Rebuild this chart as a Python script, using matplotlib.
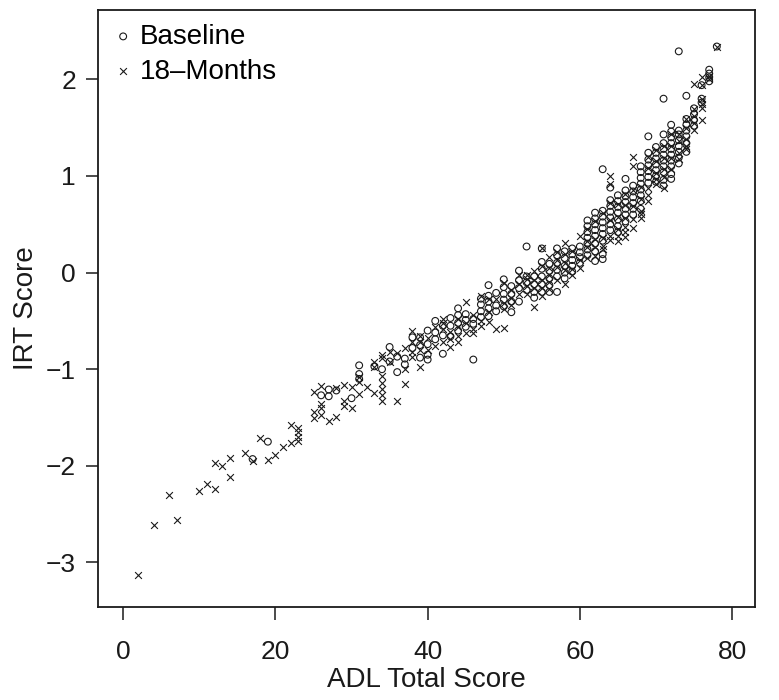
import matplotlib
matplotlib.use("Agg")
import matplotlib.pyplot as plt

# (ADL total score, IRT scores at that score)
baseline = [
    (17, [-1.93]), (19, [-1.75]),
    (26, [-1.27]), (27, [-1.21, -1.28]), (28, [-1.22]), (30, [-1.30]),
    (31, [-0.96, -1.05, -1.10]), (33, [-0.97]), (34, [-1.00]),
    (35, [-0.77, -0.92]), (36, [-0.87, -1.03]), (37, [-0.89, -0.95]),
    (38, [-0.67, -0.78]), (39, [-0.67, -0.75, -0.88]),
    (40, [-0.60, -0.74, -0.85, -0.90]), (41, [-0.50, -0.62, -0.69]),
    (42, [-0.55, -0.65, -0.84]), (43, [-0.47, -0.55, -0.66]),
    (44, [-0.37, -0.44, -0.52, -0.60]), (45, [-0.43, -0.49, -0.56]),
    (46, [-0.48, -0.53, -0.90]), (47, [-0.27, -0.33, -0.40, -0.46]),
    (48, [-0.13, -0.24, -0.30, -0.37, -0.45]), (49, [-0.21, -0.34, -0.40]),
    (50, [-0.07, -0.15, -0.22, -0.28, -0.35]),
    (51, [-0.14, -0.22, -0.30, -0.41]), (52, [0.02, -0.08, -0.16, -0.30]),
    (53, [0.27, -0.04, -0.10, -0.18]), (54, [-0.04, -0.12, -0.20, -0.26]),
    (55, [0.25, 0.11, 0.04, -0.04, -0.12, -0.20]),
    (56, [0.09, 0.02, -0.06, -0.13, -0.20]),
    (57, [0.25, 0.18, 0.10, 0.03, -0.04, -0.20]),
    (58, [0.22, 0.15, 0.07, 0.00, -0.06]),
    (59, [0.25, 0.19, 0.13, 0.07, 0.01]), (60, [0.27, 0.21, 0.16, 0.10]),
    (61, [0.54, 0.48, 0.42, 0.36, 0.30, 0.24, 0.18]),
    (62, [0.62, 0.56, 0.50, 0.44, 0.38, 0.30, 0.22, 0.12]),
    (63, [1.07, 0.64, 0.58, 0.52, 0.46, 0.40, 0.33, 0.19, 0.14]),
    (64, [0.88, 0.75, 0.69, 0.63, 0.57, 0.50, 0.44]),
    (65, [0.80, 0.74, 0.68, 0.62, 0.55, 0.48, 0.42]),
    (66, [0.97, 0.85, 0.79, 0.73, 0.66, 0.60, 0.53]),
    (67, [0.90, 0.84, 0.78, 0.72, 0.66, 0.60]),
    (68, [1.10, 1.04, 0.98, 0.92, 0.86, 0.80, 0.74, 0.66]),
    (69, [1.41, 1.24, 1.17, 1.11, 1.05, 0.99, 0.93]),
    (70, [1.30, 1.24, 1.18, 1.12, 1.06, 1.00, 0.94]),
    (71, [1.80, 1.43, 1.34, 1.28, 1.22, 1.16, 1.10, 1.04, 0.96, 0.90]),
    (72, [1.53, 1.46, 1.40, 1.34, 1.28, 1.22, 1.16, 1.10, 1.02, 0.97]),
    (73, [2.29, 1.47, 1.43, 1.37, 1.31, 1.25, 1.19, 1.13]),
    (74, [1.83, 1.59, 1.53, 1.47, 1.41, 1.34, 1.25]),
    (75, [1.70, 1.64, 1.58, 1.52]), (76, [1.94, 1.80, 1.76]),
    (77, [2.10, 2.06, 2.02, 1.98]), (78, [2.34]),
]

month18 = [
    (2, [-3.13]), (4, [-2.61]), (6, [-2.30]), (7, [-2.56]), (10, [-2.26]),
    (11, [-2.19]), (12, [-2.24, -1.97]), (13, [-2.00]), (14, [-1.92, -2.12]),
    (16, [-1.87]), (17, [-1.95]), (18, [-1.71]), (19, [-1.94]), (20, [-1.89]),
    (21, [-1.80]), (22, [-1.76, -1.58]), (23, [-1.61, -1.65, -1.70, -1.74]),
    (25, [-1.24, -1.44, -1.51]), (26, [-1.17, -1.36, -1.40, -1.47]),
    (27, [-1.54]), (28, [-1.19, -1.49]), (29, [-1.16, -1.33, -1.38]),
    (30, [-1.18, -1.40]), (31, [-1.08, -1.13, -1.26]), (32, [-1.18]),
    (33, [-0.93, -0.98, -1.25]),
    (34, [-0.85, -0.88, -1.07, -1.14, -1.20, -1.27, -1.33]),
    (35, [-0.82, -0.93]), (36, [-0.83, -1.33]), (37, [-0.78, -1.00, -1.15]),
    (38, [-0.60, -0.72, -0.82, -0.87]), (39, [-0.66, -0.72, -0.80, -0.98]),
    (40, [-0.68, -0.80]), (41, [-0.56, -0.76]),
    (42, [-0.48, -0.52, -0.58, -0.72]), (43, [-0.61, -0.69, -0.77]),
    (44, [-0.48, -0.56, -0.66, -0.72]), (45, [-0.30, -0.52, -0.62]),
    (46, [-0.44, -0.58, -0.62]), (47, [-0.24, -0.50, -0.55]),
    (48, [-0.27, -0.41, -0.51]), (49, [-0.27, -0.58]),
    (50, [-0.11, -0.31, -0.38, -0.57]), (51, [-0.18, -0.26, -0.34]),
    (52, [-0.03, -0.12, -0.22]), (53, [-0.02, -0.07, -0.14, -0.22]),
    (54, [0.02, -0.08, -0.16, -0.36]), (55, [0.25, 0.07, -0.08, -0.16, -0.24]),
    (56, [0.16, 0.05, -0.02, -0.10, -0.17]), (57, [0.21, 0.13, 0.06, -0.08]),
    (58, [0.31, 0.19, 0.10, 0.03, -0.12]), (59, [0.22, 0.04, -0.03]),
    (60, [0.38, 0.13, 0.05]), (61, [0.45, 0.33, 0.27, 0.15]),
    (62, [0.53, 0.35, 0.27, 0.17]), (63, [0.62, 0.36, 0.28, 0.24]),
    (64, [1.00, 0.92, 0.72, 0.54, 0.38, 0.34]),
    (65, [0.71, 0.58, 0.45, 0.38, 0.33]),
    (66, [0.81, 0.70, 0.57, 0.47, 0.42, 0.37]),
    (67, [1.20, 1.10, 0.86, 0.69, 0.55, 0.46]),
    (68, [0.89, 0.76, 0.64, 0.61, 0.56]), (69, [1.20, 1.08, 0.88, 0.80, 0.74]),
    (70, [1.27, 1.15, 1.03, 0.97, 0.92]), (71, [1.31, 1.19, 1.07, 0.99, 0.88]),
    (72, [1.43, 1.31, 1.19, 1.07]), (73, [1.43, 1.36, 1.24, 1.18]),
    (74, [1.59, 1.50, 1.38, 1.31, 1.28]),
    (75, [1.95, 1.69, 1.62, 1.55, 1.48]),
    (76, [2.02, 1.94, 1.80, 1.75, 1.70, 1.58]), (77, [2.04, 2.00]),
    (78, [2.34]),
]

x_ticks = [0, 20, 40, 60, 80]
y_ticks = [-3, -2, -1, 0, 1, 2]


def flatten(cols):
    xs, ys = [], []
    for score, vals in cols:
        for v in vals:
            xs.append(score)
            ys.append(v)
    return xs, ys


plt.rcParams["font.family"] = ["Liberation Sans", "DejaVu Sans"]
ink = "#1a1a1a"

fig = plt.figure(figsize=(7.79, 7.0), dpi=100)
ax = fig.add_axes([0.126, 0.133, 0.843, 0.853])

bx, by = flatten(baseline)
mx, my = flatten(month18)
ax.scatter(bx, by, s=24, facecolors="none", edgecolors=ink, linewidths=0.8,
           marker="o", label="Baseline")
ax.scatter(mx, my, s=24, c=ink, linewidths=0.8, marker="x", label="18\u2013Months")

ax.set_xlim(-3.3, 83.0)
ax.set_ylim(-3.46, 2.72)
ax.set_xticks(x_ticks)
ax.set_yticks(y_ticks)
ax.tick_params(direction="out", length=9, width=1.1, labelsize=19, colors=ink)
ax.tick_params(axis="x", pad=15)
ax.tick_params(axis="y", pad=7)
for sp in ax.spines.values():
    sp.set_linewidth(1.3)
    sp.set_color(ink)

ax.set_xlabel("ADL Total Score", fontsize=20, color=ink, labelpad=2)
ax.set_ylabel("IRT Score", fontsize=20, color=ink, labelpad=5)

ax.legend(loc="upper left", frameon=False, fontsize=20, handletextpad=0.2,
          borderaxespad=0.3, labelspacing=0.32, handlelength=0.8,
          borderpad=0.2, markerscale=1.0)

fig.savefig("out.png", dpi=100)
